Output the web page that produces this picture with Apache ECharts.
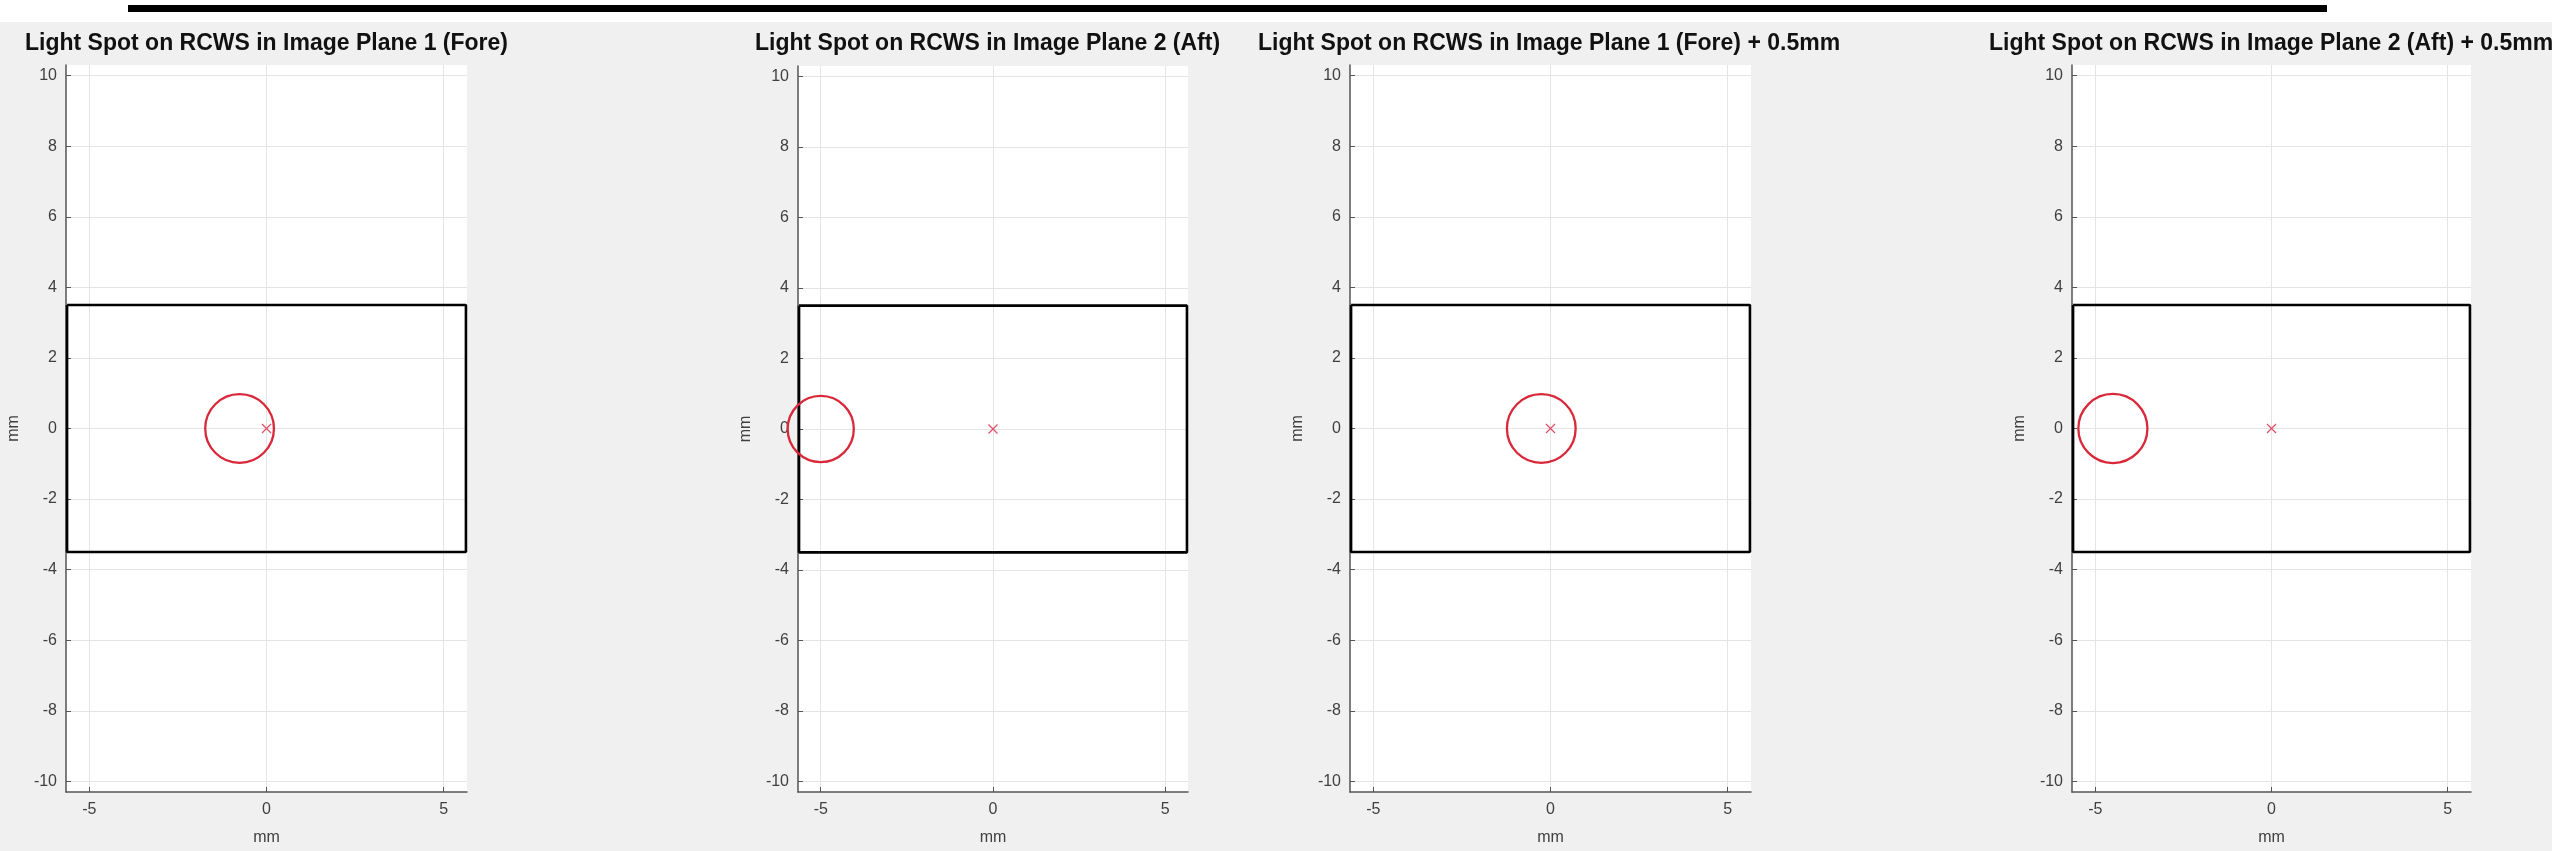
<!DOCTYPE html>
<html>
<head>
<meta charset="utf-8">
<script src="https://cdn.jsdelivr.net/npm/echarts@6/dist/echarts.min.js"></script>
<style>
  html, body { margin: 0; padding: 0; background: #f0f0f0; }
  #chart { width: 2552px; height: 851px; }
</style>
</head>
<body>
<div id="chart"></div>
<script>
// ---- data ----
const panelTitles = [
  'Light Spot on RCWS in Image Plane 1 (Fore)',
  'Light Spot on RCWS in Image Plane 2 (Aft)',
  'Light Spot on RCWS in Image Plane 1 (Fore) + 0.5mm',
  'Light Spot on RCWS in Image Plane 2 (Aft) + 0.5mm'
];
// light spot centre and radius per image plane (mm)
const spotX = [-0.76, -5.0, -0.26, -4.5];
const spotY = [0, 0, 0, 0];
const spotR = [0.97, 0.96, 0.97, 0.98];
// optical axis reference point (mm)
const refX = [0, 0, 0, 0];
const refY = [0, 0, 0, 0];
// detector outline (mm)
const rectX = [-5.63, 5.63, 5.63, -5.63, -5.63];
const rectY = [3.5, 3.5, -3.5, -3.5, 3.5];
// axes
const xLimits = [-5.66, 5.66];
const yLimits = [-10.3, 10.3];
const xTicks = [-5, 0, 5];
const yTicks = [-10, -8, -6, -4, -2, 0, 2, 4, 6, 8, 10];
const axisName = 'mm';

// ---- layout ----
const grids = [
  { left: 66,   top: 65, width: 401, height: 732 },
  { left: 798,  top: 66, width: 390, height: 727 },
  { left: 1350, top: 65, width: 401, height: 732 },
  { left: 2072, top: 65, width: 399, height: 732 }
];
const titleLeft = [25, 755, 1258, 1989];

const FONT = 'Liberation Sans, Arial, Helvetica, sans-serif';
const AXIS_COLOR = '#555555';
const LABEL_COLOR = '#404040';
const GRID_COLOR = '#e4e4e4';
const SPOT_COLOR = '#d9283a';

const chart = echarts.init(document.getElementById('chart'), null, { renderer: 'canvas' });

const option = {
  backgroundColor: '#f0f0f0',
  animation: false,
  title: panelTitles.map((t, i) => ({
    text: t,
    left: titleLeft[i],
    top: 32,
    padding: 0,
    textStyle: { fontFamily: FONT, fontWeight: 'bold', fontSize: 23, color: '#111111' }
  })),
  graphic: [
    { type: 'rect', left: 0, top: 0, shape: { width: 2552, height: 22 }, style: { fill: '#ffffff' }, silent: true },
    { type: 'rect', left: 128, top: 5, shape: { width: 2199, height: 7 }, style: { fill: '#000000' }, silent: true }
  ],
  grid: grids.map(g => Object.assign({
    show: true, backgroundColor: '#ffffff', borderWidth: 0, containLabel: false
  }, g)),
  xAxis: grids.map((g, i) => ({
    type: 'value', gridIndex: i, min: xLimits[0], max: xLimits[1],
    name: axisName, nameLocation: 'middle', nameGap: 38,
    nameTextStyle: { fontFamily: FONT, fontSize: 16, color: LABEL_COLOR },
    axisLine: { show: true, onZero: false, lineStyle: { color: AXIS_COLOR, width: 1.5 } },
    axisTick: { show: true, inside: true, length: 5, customValues: xTicks, lineStyle: { color: AXIS_COLOR, width: 1 } },
    axisLabel: { show: true, margin: 10, customValues: xTicks, fontFamily: FONT, fontSize: 16, color: LABEL_COLOR },
    splitLine: { show: true, lineStyle: { color: GRID_COLOR, width: 1 } }
  })),
  yAxis: grids.map((g, i) => ({
    type: 'value', gridIndex: i, min: yLimits[0], max: yLimits[1],
    name: axisName, nameLocation: 'middle', nameGap: 44, nameRotate: 90,
    nameTextStyle: { fontFamily: FONT, fontSize: 16, color: LABEL_COLOR },
    axisLine: { show: true, onZero: false, lineStyle: { color: AXIS_COLOR, width: 1.5 } },
    axisTick: { show: true, inside: true, length: 5, customValues: yTicks, lineStyle: { color: AXIS_COLOR, width: 1 } },
    axisLabel: { show: true, margin: 9, customValues: yTicks, fontFamily: FONT, fontSize: 16, color: LABEL_COLOR },
    splitLine: { show: true, lineStyle: { color: GRID_COLOR, width: 1 } }
  })),
  series: []
};

grids.forEach((g, i) => {
  // detector outline
  option.series.push({
    type: 'line', xAxisIndex: i, yAxisIndex: i, silent: true,
    showSymbol: false, symbol: 'none', clip: false, z: 3,
    data: rectX.map((x, k) => [x, rectY[k]]),
    lineStyle: { color: '#000000', width: 2.6 }
  });
  // light spot circle, radius in data units
  option.series.push({
    type: 'custom', xAxisIndex: i, yAxisIndex: i, silent: true, clip: false, z: 4,
    data: [[spotX[i], spotY[i], spotR[i]]],
    encode: { x: 0, y: 1 },
    renderItem: (params, api) => {
      const c = api.coord([api.value(0), api.value(1)]);
      const r = api.size([api.value(2), 0])[0];
      return {
        type: 'circle',
        shape: { cx: c[0], cy: c[1], r: r },
        style: { fill: null, stroke: SPOT_COLOR, lineWidth: 2.3 }
      };
    }
  });
  // reference cross
  option.series.push({
    type: 'custom', xAxisIndex: i, yAxisIndex: i, silent: true, clip: false, z: 5,
    data: [[refX[i], refY[i]]],
    encode: { x: 0, y: 1 },
    renderItem: (params, api) => {
      const c = api.coord([api.value(0), api.value(1)]);
      const h = 4.5;
      const st = { stroke: '#e0506a', lineWidth: 1.3 };
      return {
        type: 'group',
        children: [
          { type: 'line', shape: { x1: c[0] - h, y1: c[1] - h, x2: c[0] + h, y2: c[1] + h }, style: st },
          { type: 'line', shape: { x1: c[0] - h, y1: c[1] + h, x2: c[0] + h, y2: c[1] - h }, style: st }
        ]
      };
    }
  });
});

chart.setOption(option);
</script>
</body>
</html>
